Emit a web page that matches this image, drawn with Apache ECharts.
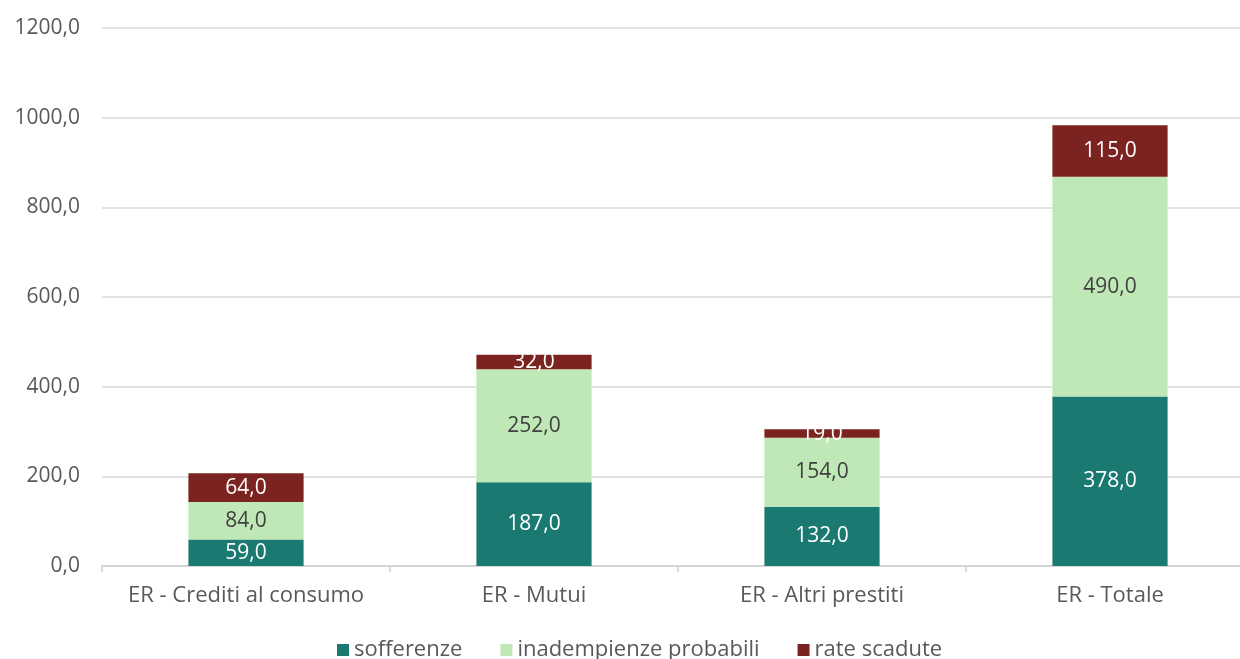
<!DOCTYPE html>
<html>
<head>
<meta charset="utf-8">
<script src="https://cdn.jsdelivr.net/npm/echarts@6/dist/echarts.min.js"></script>
<style>
  html, body { margin: 0; padding: 0; background: #ffffff; overflow: hidden; }
  /* the plot area runs a little past the right edge of the window */
  #chart { width: 1254px; height: 659px; }
</style>
</head>
<body>
<div id="chart"></div>
<script>
// Categories and stacked series values
const categories = ['ER - Crediti al consumo', 'ER - Mutui', 'ER - Altri prestiti', 'ER - Totale'];
const sofferenze = [59, 187, 132, 378];
const inadempienze = [84, 252, 154, 490];
const rateScadute = [64, 32, 19, 115];
const yTicks = { min: 0, max: 1200, interval: 200 };

const FONT = '"Open Sans", "Liberation Sans", sans-serif';
const fmt = v => v.toFixed(1).replace('.', ',');

function barSeries(name, data, color, labelColor) {
  return {
    name: name,
    type: 'bar',
    stack: 'total',
    barWidth: '40%',
    data: data,
    itemStyle: { color: color },
    label: {
      show: true,
      position: 'inside',
      color: labelColor,
      fontFamily: FONT,
      fontSize: 21,
      formatter: p => fmt(p.value)
    }
  };
}

const chart = echarts.init(document.getElementById('chart'));
chart.setOption({
  animation: false,
  grid: { left: 102, top: 28, right: 0, bottom: 93, containLabel: false },
  legend: {
    bottom: -7,
    left: 332,
    icon: 'rect',
    itemWidth: 12,
    itemHeight: 12,
    itemGap: 38,
    textStyle: { color: '#595959', fontFamily: FONT, fontSize: 22 },
    data: ['sofferenze', 'inadempienze probabili', 'rate scadute']
  },
  xAxis: {
    type: 'category',
    data: categories,
    axisLine: { lineStyle: { color: '#d0d0d0', width: 1.5 } },
    axisTick: { show: true, length: 6, lineStyle: { color: '#d0d0d0', width: 1.5 } },
    axisLabel: { color: '#595959', fontFamily: FONT, fontSize: 22, margin: 19, interval: 0 }
  },
  yAxis: {
    type: 'value',
    min: yTicks.min,
    max: yTicks.max,
    interval: yTicks.interval,
    axisLine: { show: false },
    axisTick: { show: false },
    splitLine: { lineStyle: { color: '#d9d9d9', width: 1.5 } },
    axisLabel: { color: '#595959', fontFamily: FONT, fontSize: 21, margin: 22, formatter: v => fmt(v) }
  },
  series: [
    barSeries('sofferenze', sofferenze, '#1a7a72', '#ffffff'),
    barSeries('inadempienze probabili', inadempienze, '#c0e8b6', '#404040'),
    barSeries('rate scadute', rateScadute, '#7b2320', '#ffffff')
  ]
});
</script>
</body>
</html>
